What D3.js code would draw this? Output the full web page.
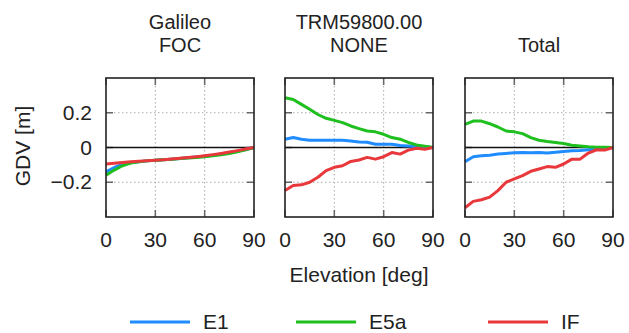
<!DOCTYPE html>
<html>
<head>
<meta charset="utf-8">
<script src="https://cdn.jsdelivr.net/npm/d3@7"></script>
<style>
  body { margin: 0; background: #fff; }
  svg text { font-family: "Liberation Sans", Arial, sans-serif; fill: #222; font-size: 21px; }
</style>
</head>
<body>
<svg id="chart" width="629" height="333"></svg>
<script>
var elevation = [0, 5, 10, 15, 20, 25, 30, 35, 40, 45, 50, 55, 60, 65, 70, 75, 80, 85, 90];

var panelTitles = [["Galileo", "FOC"], ["TRM59800.00", "NONE"], ["Total"]];
var seriesNames = ["E1", "E5a", "IF"];

// Galileo FOC
var e1Foc  = [-0.14, -0.115, -0.097, -0.088, -0.082, -0.077, -0.073, -0.07, -0.067, -0.063, -0.059, -0.055, -0.05, -0.045, -0.038, -0.03, -0.021, -0.011, 0];
var e5aFoc = [-0.16, -0.13, -0.105, -0.09, -0.082, -0.077, -0.073, -0.07, -0.067, -0.064, -0.06, -0.057, -0.053, -0.048, -0.042, -0.034, -0.025, -0.013, 0];
var ifFoc  = [-0.095, -0.09, -0.086, -0.082, -0.079, -0.076, -0.073, -0.07, -0.066, -0.062, -0.058, -0.053, -0.047, -0.041, -0.034, -0.026, -0.018, -0.009, 0];

// TRM59800.00 NONE
var e1None  = [0.048, 0.057, 0.048, 0.042, 0.042, 0.042, 0.042, 0.042, 0.038, 0.032, 0.03, 0.019, 0.019, 0.019, 0.011, 0.008, 0.005, 0.004, 0];
var e5aNone = [0.286, 0.276, 0.248, 0.22, 0.19, 0.168, 0.156, 0.143, 0.124, 0.109, 0.095, 0.09, 0.076, 0.057, 0.048, 0.029, 0.015, 0.008, 0];
var ifNone  = [-0.248, -0.219, -0.215, -0.2, -0.171, -0.133, -0.114, -0.105, -0.08, -0.072, -0.057, -0.067, -0.053, -0.029, -0.038, -0.015, -0.004, -0.01, 0];

// Total
var e1Total  = [-0.082, -0.053, -0.048, -0.044, -0.038, -0.034, -0.03, -0.029, -0.03, -0.029, -0.032, -0.027, -0.023, -0.019, -0.017, -0.013, -0.008, -0.004, 0];
var e5aTotal = [0.133, 0.152, 0.152, 0.137, 0.118, 0.095, 0.09, 0.08, 0.057, 0.042, 0.034, 0.029, 0.023, 0.013, 0.008, 0.004, 0.002, 0.002, 0];
var ifTotal  = [-0.347, -0.31, -0.301, -0.286, -0.248, -0.2, -0.181, -0.162, -0.137, -0.124, -0.11, -0.114, -0.095, -0.067, -0.067, -0.032, -0.013, -0.015, 0];

var panelData = [
  [e1Foc, e5aFoc, ifFoc],
  [e1None, e5aNone, ifNone],
  [e1Total, e5aTotal, ifTotal]
];

var xTicks = [0, 30, 60, 90],
    yTicks = [-0.2, 0, 0.2];

var colors = ["#1f8cff", "#1fbf1f", "#e8383b"];

var svg = d3.select("#chart"),
    panelLeft = [106, 285, 465],
    panelTop = 78,
    panelW = 148,
    panelH = 139,
    tickLen = 7,
    titleGap = 22.5,
    x = d3.scaleLinear().domain([0, 90]).range([0, panelW]),
    y = d3.scaleLinear().domain([-0.4, 0.4]).range([panelH, 0]),
    fmt = d3.format(".1~f");

function drawPanel(p) {
  var g = svg.append("g").attr("transform", "translate(" + panelLeft[p] + "," + panelTop + ")");

  // title lines, last line at the same height in every panel
  var title = panelTitles[p];
  title.forEach(function(t, i) {
    g.append("text")
      .attr("x", panelW / 2)
      .attr("y", -26.5 - (title.length - 1 - i) * titleGap)
      .attr("text-anchor", "middle")
      .style("font-size", "20px")
      .text(t);
  });

  // dotted grid
  g.selectAll(".vgrid").data(xTicks.filter(function(d) { return d > 0 && d < 90; }))
    .enter().append("line")
    .attr("x1", function(d) { return x(d); })
    .attr("x2", function(d) { return x(d); })
    .attr("y1", 0).attr("y2", panelH)
    .style("stroke", "#aaa").style("stroke-width", 1).style("stroke-dasharray", "1.5,2.5");
  g.selectAll(".hgrid").data(yTicks.filter(function(d) { return d !== 0; }))
    .enter().append("line")
    .attr("y1", function(d) { return y(d); })
    .attr("y2", function(d) { return y(d); })
    .attr("x1", 0).attr("x2", panelW)
    .style("stroke", "#aaa").style("stroke-width", 1).style("stroke-dasharray", "1.5,2.5");

  // tick marks on every side, pointing inwards
  yTicks.forEach(function(d) {
    g.append("line").attr("x1", 0).attr("x2", tickLen).attr("y1", y(d)).attr("y2", y(d))
      .style("stroke", "#666").style("stroke-width", 1.5);
    g.append("line").attr("x1", panelW - tickLen).attr("x2", panelW).attr("y1", y(d)).attr("y2", y(d))
      .style("stroke", "#666").style("stroke-width", 1.5);
  });
  xTicks.forEach(function(d) {
    g.append("line").attr("x1", x(d)).attr("x2", x(d)).attr("y1", 0).attr("y2", tickLen)
      .style("stroke", "#666").style("stroke-width", 1.5);
    g.append("line").attr("x1", x(d)).attr("x2", x(d)).attr("y1", panelH - tickLen).attr("y2", panelH)
      .style("stroke", "#666").style("stroke-width", 1.5);
  });

  // zero line
  g.append("line")
    .attr("x1", 0).attr("x2", panelW)
    .attr("y1", y(0)).attr("y2", y(0))
    .style("stroke", "#111").style("stroke-width", 1.5);

  var line = d3.line()
    .x(function(d, i) { return x(elevation[i]); })
    .y(function(d) { return y(d); });

  panelData[p].forEach(function(s, k) {
    g.append("path")
      .datum(s)
      .attr("d", line)
      .style("fill", "none")
      .style("stroke", colors[k])
      .style("stroke-width", 3)
      .style("stroke-linejoin", "round");
  });

  // frame
  g.append("rect")
    .attr("width", panelW).attr("height", panelH)
    .style("fill", "none").style("stroke", "#222").style("stroke-width", 1.6);

  // x tick labels
  g.selectAll(".xlab").data(xTicks)
    .enter().append("text")
    .attr("x", function(d) { return x(d); })
    .attr("y", panelH + 30)
    .attr("text-anchor", "middle")
    .text(function(d) { return d; });

  // y tick labels only on the first panel
  if (p === 0) {
    g.selectAll(".ylab").data(yTicks)
      .enter().append("text")
      .attr("x", -14)
      .attr("y", function(d) { return y(d) + 7; })
      .attr("text-anchor", "end")
      .text(function(d) { return d === 0 ? "0" : fmt(d); });
  }
}

for (var p = 0; p < panelData.length; p++) drawPanel(p);

svg.append("text")
  .attr("transform", "translate(30,146) rotate(-90)")
  .attr("text-anchor", "middle")
  .text("GDV [m]");

svg.append("text")
  .attr("x", panelLeft[1] + panelW / 2)
  .attr("y", 282)
  .attr("text-anchor", "middle")
  .text("Elevation [deg]");

// legend
var legendX = [130, 296, 488];
seriesNames.forEach(function(name, k) {
  svg.append("line")
    .attr("x1", legendX[k]).attr("x2", legendX[k] + 60)
    .attr("y1", 322).attr("y2", 322)
    .style("stroke", colors[k]).style("stroke-width", 3);
  svg.append("text")
    .attr("x", legendX[k] + 73)
    .attr("y", 329)
    .text(name);
});
</script>
</body>
</html>
